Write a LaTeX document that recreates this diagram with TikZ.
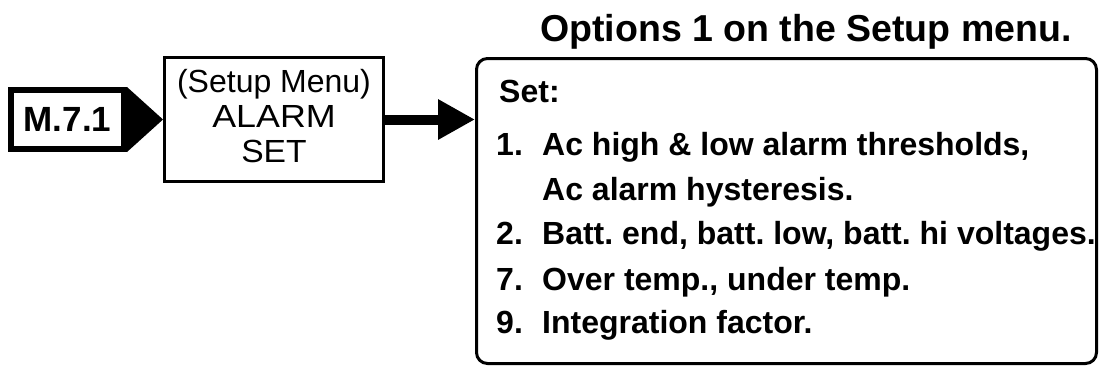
\documentclass[tikz,border=0pt]{standalone}
\usepackage{fontspec}
\setmainfont{Liberation Sans}
\usetikzlibrary{arrows.meta}
\frenchspacing
\tikzset{
  mbox/.style={draw, line width=6pt, minimum width=113pt, minimum height=59pt, inner sep=0pt,
    font=\fontsize{35}{40}\selectfont\bfseries},
  sbox/.style={draw, line width=3pt, minimum width=219pt, minimum height=124pt, inner sep=0pt,
    align=center, font=\fontsize{32}{35}\selectfont},
  rbox/.style={draw, line width=3pt, rounded corners=11pt, minimum width=620pt, minimum height=305pt, inner sep=0pt},
  bodytext/.style={anchor=base west, inner sep=0pt, font=\fontsize{32}{36}\selectfont\bfseries},
  titletext/.style={anchor=base west, inner sep=0pt, font=\fontsize{37.5}{42}\selectfont\bfseries},
  bigarrow/.style={line width=10pt, -{Triangle[length=37pt,width=38pt]}}
}
\begin{document}
\begin{tikzpicture}[x=1pt,y=-1pt]
\useasboundingbox (0,0) rectangle (1099,367);
\node[mbox] (m) at (67.5,119.5) {M.7.1};
\node[sbox] (s) at (274,119.5) {(Setup Menu)\\\scalebox{1.12}[1]{ALARM}\\\scalebox{1.05}[1]{SET}\rule[-6.4pt]{0pt}{0pt}};
\node[rbox] (r) at (786.5,211) {};
\fill (m.north east) -- (s.west) -- (m.south east) -- cycle;
\draw[bigarrow] (s.east) -- (s.east -| r.west);
\node[titletext] (t) at (540,41) {Options 1 on the Setup menu.};
\node[bodytext] (l0) at (499,102) {Set:};
\node[bodytext] (l1) at (496,155) {\makebox[46pt][l]{1.}Ac high \& low alarm thresholds,};
\node[bodytext] (l2) at (542,200) {Ac alarm hysteresis.};
\node[bodytext] (l3) at (496,244) {\makebox[46pt][l]{2.}Batt. end, batt. low, batt. hi voltages.};
\node[bodytext] (l4) at (496,290) {\makebox[46pt][l]{7.}Over temp., under temp.};
\node[bodytext] (l5) at (496,333) {\makebox[46pt][l]{9.}Integration factor.};
\end{tikzpicture}
\end{document}
